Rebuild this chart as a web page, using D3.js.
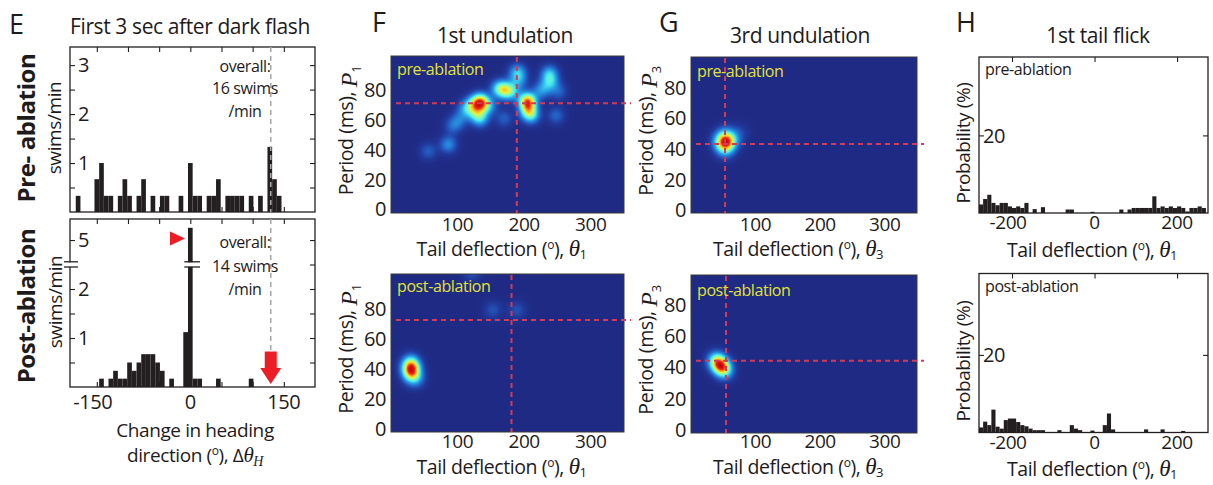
<!DOCTYPE html>
<meta charset="utf-8">
<style>
  body { margin: 0; background: #fff; }
  text { font-family: "Open Sans", "Noto Sans", sans-serif; fill: #1e1b1c; letter-spacing: -0.4px; }
  .frame { fill: none; stroke: #231f20; stroke-width: 1.3; }
  .hframe { fill: none; stroke: #3a3a3a; stroke-width: 1; }
  .tick line { stroke: #231f20; stroke-width: 1.1; }
  .guide { stroke: #d33a55; stroke-width: 2; stroke-dasharray: 5 4; fill: none; }
  .mean { stroke: #a8a8a8; stroke-width: 1.6; stroke-dasharray: 5 4; }
</style>
<body>
<div id="fig"></div>
<script src="https://cdnjs.cloudflare.com/ajax/libs/d3/7.8.5/d3.min.js"></script>
<script>
  // ---------- E: change in heading direction, 7.5 deg bins (centres), swims/min
  var headingBin = 7.5;
  var headingPreCentres = [-180, -150, -142.5, -135, -127.5, -112.5, -105, -97.5, -82.5, -75, -60, -45, -37.5, -15,
    0, 7.5, 15, 30, 37.5, 45, 60, 67.5, 75, 82.5, 97.5, 112.5, 127.5, 135, 142.5];
  var headingPreRates = [0.33, 0.67, 1, 0.33, 0.33, 0.33, 0.67, 0.33, 0.33, 0.67, 0.33, 0.33, 0.33, 0.33,
    1, 0.33, 0.33, 0.33, 0.33, 0.67, 0.33, 0.33, 0.33, 0.33, 0.33, 0.33, 1.33, 0.67, 0.33];
  var headingPostCentres = [-142.5, -127.5, -120, -112.5, -105, -97.5, -90, -82.5, -75, -67.5, -60, -52.5, -45,
    -30, -7.5, 0, 7.5, 15, 45, 97.5];
  var headingPostRates = [0.17, 0.17, 0.33, 0.17, 0.17, 0.5, 0.33, 0.5, 0.67, 0.67, 0.67, 0.5, 0.33,
    0.17, 1.12, 5.25, 0.17, 0.17, 0.17, 0.17];
  var headingTicks = [-150, 0, 150];
  var overallHeading = 129;
  var overallPre = ["overall:", "16 swims", "/min"];
  var overallPost = ["overall:", "14 swims", "/min"];

  // ---------- F, G: density peaks (tail deflection deg, period ms, weight)
  var und1PreDeg = [134, 205, 206, 121, 128, 134, 146, 112, 163, 173, 181, 190, 192, 238, 239, 226, 252, 248, 211, 170, 103, 93, 86, 56];
  var und1PrePeriod = [72, 72.5, 66, 70, 65, 61, 69, 67, 81, 80, 79, 92, 86, 91, 85, 80, 79, 63, 63, 61, 60, 56, 43.5, 39];
  var und1PreWeight = [1.0, 1.0, 0.5, 0.35, 0.35, 0.4, 0.3, 0.25, 0.5, 0.45, 0.3, 0.4, 0.25, 0.4, 0.35, 0.3, 0.18, 0.2, 0.35, 0.18, 0.2, 0.2, 0.3, 0.18];
  var und1PostDeg = [30, 30, 31, 38, 153, 189, 122];
  var und1PostPeriod = [44, 40, 36, 33, 79, 79, 104];
  var und1PostWeight = [0.6, 1.0, 0.6, 0.3, 0.2, 0.2, 0.2];
  var und3PreDeg = [52, 57, 47, 53, 53, 62, 70, 78];
  var und3PrePeriod = [44, 44, 45, 39, 49, 46, 49, 51];
  var und3PreWeight = [1.0, 0.6, 0.5, 0.45, 0.45, 0.3, 0.15, 0.1];
  var und3PostDeg = [38, 42, 46, 50, 53];
  var und3PostPeriod = [45, 43, 41, 39, 37];
  var und3PostWeight = [0.7, 1.0, 1.0, 0.9, 0.5];
  // red dashed guides [deflection, period]
  var und1PreGuide = [189, 71.2], und1PostGuide = [181, 72.4];
  var und3PreGuide = [52.7, 43.1], und3PostGuide = [54.2, 44.2];
  var periodTicks = [0, 20, 40, 60, 80];
  var deflTicks = [100, 200, 300];

  // ---------- H: first tail flick, 10 deg bins (left edges), probability %
  var flickPreEdges = [-280, -270, -260, -250, -240, -230, -220, -210, -200, -190, -180, -170, -150, -130, -70, -60, -10,
    60, 80, 90, 100, 110, 120, 130, 140, 150, 160, 170, 180, 190, 200, 210, 220, 230, 240, 250, 260];
  var flickPreProb = [2.2, 3.6, 4.7, 2.6, 2.0, 2.6, 2.6, 1.7, 1.3, 1.7, 1.3, 2.6, 1.0, 1.5, 0.9, 0.9, 0.3,
    0.9, 0.9, 1.3, 1.3, 1.3, 1.3, 1.3, 4.3, 1.3, 1.7, 1.3, 1.7, 1.3, 1.7, 1.3, 0.4, 1.3, 1.3, 1.7, 1.3];
  var flickPostEdges = [-280, -270, -260, -250, -240, -230, -220, -210, -200, -190, -180, -170, -160, -150, -140, -130,
    -90, -60, -50, -40, -10, 20, 30, 40, 120, 160, 210];
  var flickPostProb = [1.3, 2.8, 1.9, 5.9, 1.5, 1.0, 3.2, 3.6, 3.6, 2.7, 1.9, 1.6, 1.0, 0.6, 0.6, 0.6,
    0.6, 1.9, 1.0, 0.6, 0.5, 1.9, 4.9, 0.8, 0.8, 0.8, 0.4];
  var flickBin = 10;
  var flickTicks = [-200, 0, 200];

  // ---------------------------------------------------------------
  var svg = d3.select("#fig").append("svg").attr("width", 1213).attr("height", 485);
  var ink = "#231f20";
  var serif = "'Liberation Serif', 'DejaVu Serif', serif";

  function rich(x, y, parts, size, opt) {
    opt = opt || {};
    var t = svg.append("text").attr("font-size", size).attr("text-anchor", opt.anchor || "middle");
    if (opt.rotate) t.attr("transform", "translate(" + x + "," + y + ") rotate(-90)");
    else t.attr("x", x).attr("y", y);
    if (opt.weight) t.attr("font-weight", opt.weight);
    if (opt.fill) t.style("fill", opt.fill);
    parts.forEach(function (p) {
      if (typeof p == "string") p = { t: p };
      var s = t.append("tspan").text(p.t);
      if (p.dy) s.attr("dy", p.dy);
      if (p.size) s.attr("font-size", p.size);
      if (p.math) s.attr("font-family", serif).attr("font-style", "italic");
    });
    return t;
  }

  function degLabel(sub) {
    return ["Tail deflection (", { t: "o", size: 12, dy: -7 }, { t: ")", dy: 7 }, ", ",
      { t: "\u03B8", math: true, size: 23 }, { t: sub, size: 13, dy: 3 }];
  }
  function periodLabel(sub) {
    return ["Period (ms), ", { t: "P", math: true, size: 24, dy: 4 }, { t: sub, size: 13, dy: 4 }];
  }

  function inwardTicks(g, scale, orient, at, values, len) {
    var ax = orient == "left" ? d3.axisLeft(scale) : orient == "right" ? d3.axisRight(scale)
      : orient == "top" ? d3.axisTop(scale) : d3.axisBottom(scale);
    ax.tickValues(values).tickSize(-len).tickSizeOuter(0).tickFormat("");
    var a = g.append("g").attr("transform", orient == "left" || orient == "right"
      ? "translate(" + at + ",0)" : "translate(0," + at + ")").call(ax);
    a.select(".domain").remove();
    return a;
  }

  // ---------------- panel E ----------------
  var eBox = { x0: 70, x1: 315 };
  var eX = d3.scaleLinear().domain([-193, 200]).range([eBox.x0, eBox.x1]);
  var eYPre = d3.scaleLinear().domain([0, 3.37]).range([212, 47]);
  var eYPost = d3.scaleLinear().domain([0, 2.5, 4.5, 5.43]).range([387, 264.5, 264.5, 219]);

  function headingHist(centres, rates, y, y0, y1, yTicks, labelVals, labelText) {
    var g = svg.append("g");
    g.selectAll("rect.bar").data(centres).enter().append("rect")
      .attr("x", function (d) { return eX(d - headingBin / 2); })
      .attr("width", function (d) { return eX(d + headingBin / 2) - eX(d - headingBin / 2); })
      .attr("y", function (d, i) { return y(rates[i]); })
      .attr("height", function (d, i) { return y(0) - y(rates[i]); })
      .attr("fill", ink);
    inwardTicks(g, y, "left", eBox.x0, yTicks, 5);
    inwardTicks(g, y, "right", eBox.x1, yTicks, 5);
    inwardTicks(g, eX, "top", y1, d3.range(-150, 151, 50), 5);
    inwardTicks(g, eX, "bottom", y0, d3.range(-150, 151, 50), 5);
    g.append("rect").attr("class", "frame").attr("x", eBox.x0).attr("y", y1)
      .attr("width", eBox.x1 - eBox.x0).attr("height", y0 - y1);
    labelVals.forEach(function (v, i) {
      g.append("text").attr("x", eBox.x0 + 8).attr("y", y(v)).attr("dy", "0.36em")
        .attr("font-size", 20).text(labelText[i]);
    });
    return g;
  }

  headingHist(headingPreCentres, headingPreRates, eYPre, 212, 47, [0.5, 1, 1.5, 2, 2.5, 3], [3, 2, 1], ["3", "2", "1"]);
  var ePost = headingHist(headingPostCentres, headingPostRates, eYPost, 387, 219, [0.5, 1, 1.5, 2, 2.5, 5], [5, 2, 1], ["5", "2", "1"]);

  // axis break on the post-ablation panel
  [[eBox.x0 - 6, eBox.x0 + 8], [eX(0) - 6, eX(0 + headingBin) + 5]].forEach(function (r) {
    ePost.append("rect").attr("x", r[0]).attr("y", 262.3).attr("width", r[1] - r[0]).attr("height", 4.6).attr("fill", "#fff");
    [261.8, 267].forEach(function (yy) {
      ePost.append("line").attr("x1", r[0]).attr("x2", r[1]).attr("y1", yy).attr("y2", yy)
        .attr("stroke", ink).attr("stroke-width", 1.3);
    });
  });

  // overall mean heading
  svg.append("line").attr("class", "mean").attr("x1", eX(overallHeading)).attr("x2", eX(overallHeading))
    .attr("y1", 47).attr("y2", 212);
  svg.append("line").attr("class", "mean").attr("x1", eX(overallHeading)).attr("x2", eX(overallHeading))
    .attr("y1", 219).attr("y2", 352);
  var ax = eX(overallHeading);
  svg.append("rect").attr("x", ax - 6).attr("y", 351.5).attr("width", 12).attr("height", 17).attr("fill", "#ee1c25");
  svg.append("path").attr("d", "M" + (ax - 10.5) + ",368 L" + (ax + 10.5) + ",368 L" + ax + ",384 Z").attr("fill", "#ee1c25");
  svg.append("path").attr("d", "M170,231.5 L170,245.5 L185,238.5 Z").attr("fill", "#ee1c25");

  [[overallPre, [72, 94, 117]], [overallPost, [248, 272, 295]]].forEach(function (o) {
    o[0].forEach(function (s, i) {
      svg.append("text").attr("x", 245).attr("y", o[1][i]).attr("text-anchor", "middle").attr("font-size", 16).text(s);
    });
  });

  headingTicks.forEach(function (v) {
    svg.append("text").attr("x", eX(v) - (v < 0 ? 4 : 0)).attr("y", 409).attr("text-anchor", "middle")
      .attr("font-size", 20).text(v < 0 ? "-" + Math.abs(v) : v);
  });
  rich(195, 437, ["Change in heading"], 19);
  rich(195, 462, ["direction (", { t: "o", size: 12, dy: -7 }, { t: "), ", dy: 7 }, "\u0394",
    { t: "\u03B8", math: true, size: 21 }, { t: "H", math: true, size: 14, dy: 4 }], 19);

  rich(35, 128, ["Pre- ablation"], 24, { rotate: true, weight: "bold" });
  rich(61, 128, ["swims/min"], 19, { rotate: true });
  rich(35, 306, ["Post-ablation"], 24, { rotate: true, weight: "bold" });
  rich(62, 302, ["swims/min"], 19, { rotate: true });

  rich(9, 34, ["E"], 27, { anchor: "start" });
  rich(190, 34, ["First 3 sec after dark flash"], 21);

  // ---------------- panels F, G ----------------
  var jet = d3.scaleLinear()
    .domain([0, 0.06, 0.15, 0.28, 0.40, 0.52, 0.64, 0.76, 0.86, 1])
    .range(["#1f2a84", "#213a9c", "#2462c8", "#2aa6e6", "#4aeef0", "#96f8a0", "#ecf034", "#ffa020", "#f02814", "#c4000c"])
    .clamp(true);

  function heatPanel(box, yDom, degs, periods, weights, guide, tag, sub, tickY, labelY, spread) {
    var x = d3.scaleLinear().domain([0, 350]).range([box.x0, box.x1]);
    var y = d3.scaleLinear().domain(yDom).range([box.y1, box.y0]);
    var w = box.x1 - box.x0, h = box.y1 - box.y0;
    var canvas = document.createElement("canvas");
    canvas.width = w; canvas.height = h;
    var ctx = canvas.getContext("2d");
    var img = ctx.createImageData(w, h);
    var dens = new Float64Array(w * h), peak = 0, s2 = 2 * spread * spread;
    var px = degs.map(function (d) { return x(d) - box.x0; });
    var py = periods.map(function (p) { return y(p) - box.y0; });
    for (var j = 0; j < h; j++) {
      for (var i = 0; i < w; i++) {
        var v = 0;
        for (var k = 0; k < px.length; k++) {
          var dx = i + 0.5 - px[k], dy = j + 0.5 - py[k];
          v += weights[k] * Math.exp(-(dx * dx + dy * dy) / s2);
        }
        dens[j * w + i] = v;
        if (v > peak) peak = v;
      }
    }
    for (var n = 0; n < w * h; n++) {
      var c = d3.rgb(jet(dens[n] / peak));
      img.data[4 * n] = c.r; img.data[4 * n + 1] = c.g; img.data[4 * n + 2] = c.b; img.data[4 * n + 3] = 255;
    }
    ctx.putImageData(img, 0, 0);
    svg.append("image").attr("x", box.x0).attr("y", box.y0).attr("width", w).attr("height", h)
      .attr("preserveAspectRatio", "none").attr("href", canvas.toDataURL());
    svg.append("rect").attr("class", "hframe").attr("x", box.x0).attr("y", box.y0).attr("width", w).attr("height", h);

    svg.append("line").attr("class", "guide").attr("x1", x(guide[0])).attr("x2", x(guide[0]))
      .attr("y1", box.y0 + 1).attr("y2", box.y1);
    svg.append("line").attr("class", "guide").attr("x1", box.x0 + 5).attr("x2", box.x1 + 7)
      .attr("y1", y(guide[1])).attr("y2", y(guide[1]));

    svg.append("text").attr("x", box.x0 + 6).attr("y", box.y0 + tag[1]).attr("font-size", 16)
      .style("fill", "#e2e234").text(tag[0]);

    periodTicks.forEach(function (v) {
      svg.append("text").attr("x", box.x0 - 5).attr("y", y(v)).attr("dy", "0.36em").attr("text-anchor", "end")
        .attr("font-size", 20).text(v);
    });
    deflTicks.forEach(function (v) {
      svg.append("text").attr("x", x(v)).attr("y", tickY).attr("text-anchor", "middle").attr("font-size", 19).text(v);
    });
    rich((box.x0 + box.x1) / 2 - 6, labelY, degLabel(sub), 19.5);
    rich(box.x0 - 38, (box.y0 + box.y1) / 2 - 4, periodLabel(sub), 19.5, { rotate: true });
  }

  heatPanel({ x0: 391, x1: 624, y0: 56, y1: 213 }, [-2.5, 103], und1PreDeg, und1PrePeriod, und1PreWeight,
    und1PreGuide, ["pre-ablation", 19], "1", 231, 256, 6);
  heatPanel({ x0: 391, x1: 624, y0: 274, y1: 432 }, [-2, 103], und1PostDeg, und1PostPeriod, und1PostWeight,
    und1PostGuide, ["post-ablation", 18], "1", 448, 474, 6.2);
  heatPanel({ x0: 691, x1: 917, y0: 57, y1: 213 }, [-2, 100], und3PreDeg, und3PrePeriod, und3PreWeight,
    und3PreGuide, ["pre-ablation", 20], "3", 231, 256, 6.5);
  heatPanel({ x0: 691, x1: 917, y0: 275, y1: 433 }, [-2, 99], und3PostDeg, und3PostPeriod, und3PostWeight,
    und3PostGuide, ["post-ablation", 21], "3", 448, 474, 6.2);

  rich(372, 32, ["F"], 27, { anchor: "start" });
  rich(505, 43, ["1st undulation"], 21);
  rich(659, 32, ["G"], 27, { anchor: "start" });
  rich(800, 43, ["3rd undulation"], 21);

  // ---------------- panel H ----------------
  var hX = d3.scaleLinear().domain([-280, 275]).range([979, 1208]);

  function flickHist(edges, probs, y0, y1, tag, tickY, labelY) {
    var y = d3.scaleLinear().domain([0, (y0 - y1) / 3.88]).range([y0, y1]);
    var g = svg.append("g");
    g.selectAll("rect.bar").data(edges).enter().append("rect")
      .attr("x", function (d) { return hX(d); })
      .attr("width", function (d) { return hX(d + flickBin) - hX(d); })
      .attr("y", function (d, i) { return y(probs[i]); })
      .attr("height", function (d, i) { return y(0) - y(probs[i]); })
      .attr("fill", ink);
    inwardTicks(g, y, "left", 979, [20], 5);
    inwardTicks(g, y, "right", 1208, [20], 5);
    inwardTicks(g, hX, "top", y1, flickTicks, 5);
    g.append("rect").attr("class", "frame").attr("x", 979).attr("y", y1).attr("width", 1208 - 979).attr("height", y0 - y1);
    g.append("text").attr("x", 983).attr("y", y(20)).attr("dy", "0.36em").attr("font-size", 20).text("20");
    g.append("text").attr("x", 985).attr("y", y1 + 18).attr("font-size", 16).text(tag);
    flickTicks.forEach(function (v) {
      g.append("text").attr("x", hX(v) - (v < 0 ? 4 : 0)).attr("y", tickY).attr("text-anchor", "middle")
        .attr("font-size", 19).text(v < 0 ? "-" + Math.abs(v) : v);
    });
    rich(1092, labelY, degLabel("1"), 19.5);
    rich(970, (y0 + y1) / 2 + 8, ["Probability (%)"], 19, { rotate: true });
  }

  flickHist(flickPreEdges, flickPreProb, 213, 57, "pre-ablation", 229, 257);
  flickHist(flickPostEdges, flickPostProb, 432.5, 273.5, "post-ablation", 449, 476);

  rich(956, 32, ["H"], 27, { anchor: "start" });
  rich(1098, 43, ["1st tail flick"], 21);
</script>
</body>
